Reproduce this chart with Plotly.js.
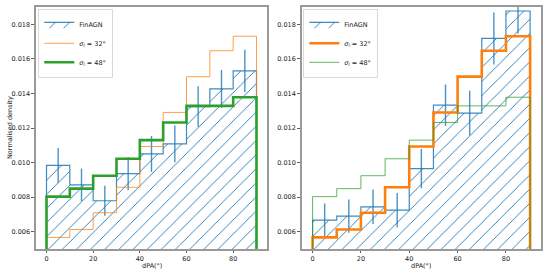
<!DOCTYPE html>
<html>
<head>
<meta charset="utf-8">
<script src="https://cdn.plot.ly/plotly-3.0.1.min.js"></script>
<style>html,body{margin:0;padding:0;background:#fff;}#chart{width:548px;height:274px;}</style>
</head>
<body>
<div id="chart"></div>
<script>
// bin edges and centres (dPA, degrees)
const binEdges = [0, 10, 20, 30, 40, 50, 60, 70, 80, 90];
const binCentres = [5, 15, 25, 35, 45, 55, 65, 75, 85];

// left panel: FinAGN histogram and its errors
const finLeft    = [0.00984, 0.00871, 0.00779, 0.00936, 0.01050, 0.01108, 0.01324, 0.01426, 0.01530];
const finLeftErr = [0.00101, 0.00094, 0.00087, 0.00096, 0.00104, 0.00106, 0.00117, 0.00110, 0.00123];

// right panel: FinAGN histogram and its errors
const finRight    = [0.00667, 0.00690, 0.00744, 0.00725, 0.00965, 0.01332, 0.01286, 0.01718, 0.01877];
const finRightErr = [0.00096, 0.00096, 0.00100, 0.00099, 0.00113, 0.00120, 0.00130, 0.00150, 0.00130];

// model histograms (same in both panels)
const sigma32 = [0.00567, 0.00613, 0.00710, 0.00857, 0.01093, 0.01290, 0.01497, 0.01647, 0.01731];
const sigma48 = [0.00803, 0.00849, 0.00924, 0.01022, 0.01130, 0.01232, 0.01328, 0.01328, 0.01378];

const seriesNames = ['FinAGN', '<i>σ</i><sub><i>l</i></sub> = 32°', '<i>σ</i><sub><i>l</i></sub> = 48°'];
const xTitle = 'dPA(°)';
const yTitle = 'Normalised density';

const BLUE = '#1f77b4', ORANGE = '#ff7f0e', GREEN = '#2ca02c';

// step outline (matplotlib histtype="step") built from the edges and values
function stepXY(vals) {
  const x = [binEdges[0]], y = [0];
  for (let i = 0; i < vals.length; i++) { x.push(binEdges[i]); y.push(vals[i]); }
  x.push(binEdges[binEdges.length - 1]); y.push(vals[vals.length - 1]);
  x.push(binEdges[binEdges.length - 1]); y.push(0);
  return {x, y};
}

function panelTraces(fin, finErr, thick32, suffix, legendName) {
  const f = stepXY(fin), o = stepXY(sigma32), g = stepXY(sigma48);
  const xa = 'x' + suffix, ya = 'y' + suffix;
  return [
    {type: 'scatter', mode: 'lines', x: f.x, y: f.y, xaxis: xa, yaxis: ya,
     name: seriesNames[0], legend: legendName,
     line: {shape: 'hv', color: 'rgba(31,119,180,0.85)', width: 1.2},
     fill: 'toself', fillcolor: 'rgba(0,0,0,0)',
     fillpattern: {shape: '/', fgcolor: BLUE, bgcolor: 'rgba(0,0,0,0)',
                   size: 10, solidity: 0.09, fillmode: 'replace'}},
    {type: 'scatter', mode: 'lines', x: binCentres, y: fin, xaxis: xa, yaxis: ya,
     showlegend: false, hoverinfo: 'skip', line: {width: 0, color: 'rgba(0,0,0,0)'},
     error_y: {type: 'data', array: finErr, visible: true, color: 'rgba(31,119,180,0.8)',
               thickness: 1.4, width: 0}},
    {type: 'scatter', mode: 'lines', x: o.x, y: o.y, xaxis: xa, yaxis: ya,
     name: seriesNames[1], legend: legendName,
     line: {shape: 'hv', color: ORANGE, width: thick32 ? 2.6 : 1, }, opacity: thick32 ? 1 : 0.75},
    {type: 'scatter', mode: 'lines', x: g.x, y: g.y, xaxis: xa, yaxis: ya,
     name: seriesNames[2], legend: legendName,
     line: {shape: 'hv', color: GREEN, width: thick32 ? 1 : 2.6}, opacity: thick32 ? 0.75 : 1}
  ];
}

const data = [].concat(
  panelTraces(finLeft, finLeftErr, false, '', 'legend'),
  panelTraces(finRight, finRightErr, true, '2', 'legend2')
);

const W = 548, H = 274;
const txtFont = {family: 'DejaVu Sans', size: 6.5, color: '#222'};
const xBase = {range: [-4.5, 94.5], dtick: 20, tick0: 0, ticks: 'outside', ticklen: 2.5, tickwidth: 0.8,
  tickcolor: '#333', showline: true, linecolor: '#999', linewidth: 1.6, mirror: true,
  showgrid: false, zeroline: false, tickfont: txtFont};
const yBase = {range: [0.005, 0.019], dtick: 0.002, tick0: 0, tickformat: '.3f', ticks: 'outside',
  ticklen: 3, tickwidth: 0.8, tickcolor: '#333', showline: true, linecolor: '#999', linewidth: 1.6,
  mirror: true, showgrid: false, zeroline: false, tickfont: txtFont};

const xDomL = [36 / W, 267 / W], xDomR = [301.7 / W, 541 / W];
const yDom = [(H - 249) / H, (H - 7) / H];
const legBase = {xanchor: 'left', yanchor: 'top', bgcolor: 'rgba(255,255,255,0.85)',
  bordercolor: '#d0d0d0', borderwidth: 0.8, font: txtFont, itemwidth: 30, tracegroupgap: 0};
const layout = {
  width: W, height: H, margin: {l: 0, r: 0, t: 0, b: 0},
  paper_bgcolor: '#fff', plot_bgcolor: '#fff', font: txtFont,
  xaxis: Object.assign({}, xBase, {domain: xDomL, anchor: 'y'}),
  yaxis: Object.assign({}, yBase, {domain: yDom, anchor: 'x'}),
  xaxis2: Object.assign({}, xBase, {domain: xDomR, anchor: 'y2'}),
  yaxis2: Object.assign({}, yBase, {domain: yDom, anchor: 'x2'}),
  legend: Object.assign({x: 38.5 / W, y: 1 - 9 / H}, legBase),
  legend2: Object.assign({x: 303.5 / W, y: 1 - 9 / H}, legBase),
  annotations: [
    {text: xTitle, xref: 'paper', yref: 'paper', x: (xDomL[0] + xDomL[1]) / 2, y: 1 - 266 / H,
     xanchor: 'center', yanchor: 'middle', showarrow: false, font: txtFont},
    {text: xTitle, xref: 'paper', yref: 'paper', x: (xDomR[0] + xDomR[1]) / 2, y: 1 - 266 / H,
     xanchor: 'center', yanchor: 'middle', showarrow: false, font: txtFont},
    {text: yTitle, xref: 'paper', yref: 'paper', x: 10 / W, y: (yDom[0] + yDom[1]) / 2,
     xanchor: 'center', yanchor: 'middle', showarrow: false, textangle: -90, font: txtFont}
  ],
  showlegend: true
};

Plotly.newPlot('chart', data, layout, {staticPlot: true, displayModeBar: false});
</script>
</body>
</html>
